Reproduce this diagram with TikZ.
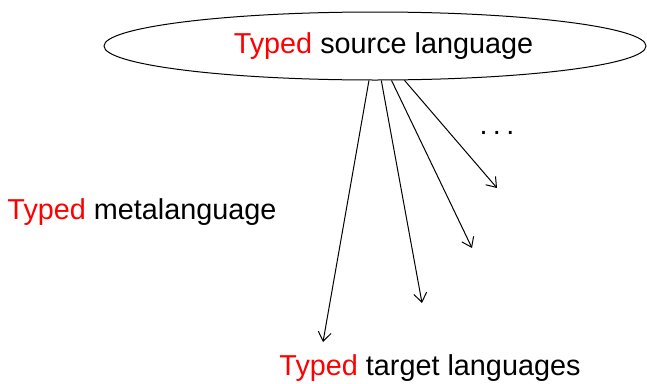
\documentclass[tikz,border=0pt]{standalone}
\usepackage{fontspec}
\setmainfont{Liberation Sans}
\usetikzlibrary{shapes.geometric,arrows.meta}
\begin{document}
\begin{tikzpicture}[x=1pt,y=-1pt]
        \tikzstyle{lang}=[ellipse,draw=black,line width=1pt,minimum width=542pt,minimum height=68pt,inner sep=0pt]
        \tikzstyle{word}=[font=\fontsize{28.8}{34}\selectfont,inner sep=0pt]
        \tikzstyle{edge}=[draw,line width=1pt,-{Straight Barb[length=9pt,width=13pt]}]
        \useasboundingbox (0,0) rectangle (647,383);
        \begin{scope}
           \node [lang,word] (src) at (375,46) {\hspace*{17pt}\textcolor{red}{Typed} source language};
           \node [word] (meta) at (142,212) {\textcolor{red}{Typed} metalanguage};
           \node [word] (tgt) at (430,368) {\textcolor{red}{Typed} target languages};
           \node [word] (more) at (497,133) {.\hspace{5.5pt}.\hspace{5.5pt}.};
           \coordinate (t1) at (323,342);
           \coordinate (t2) at (422,303);
           \coordinate (t3) at (472,248);
           \coordinate (t4) at (497,188);
           \path[edge] (src) -- (t1);
           \path[edge] (src) -- (t2);
           \path[edge] (src) -- (t3);
           \path[edge] (src) -- (t4);
        \end{scope}
      \end{tikzpicture}
\end{document}
